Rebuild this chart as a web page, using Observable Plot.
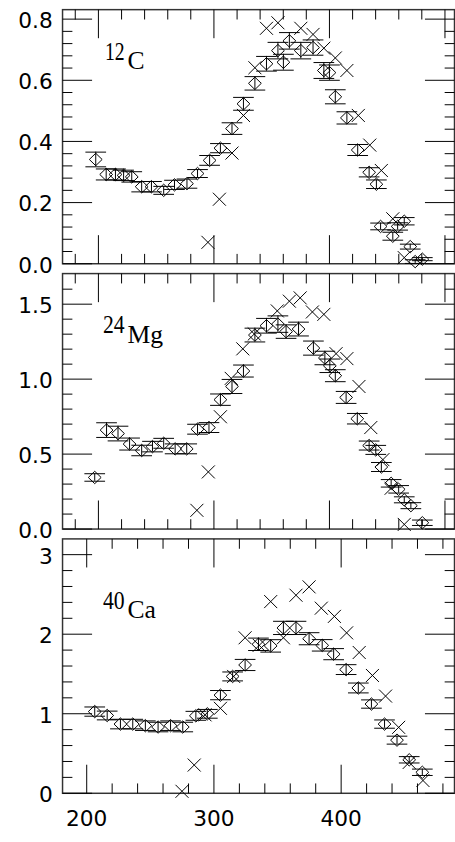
<!DOCTYPE html>
<html><head><meta charset="utf-8">
<script src="https://cdn.jsdelivr.net/npm/d3@7"></script>
<script src="https://cdn.jsdelivr.net/npm/@observablehq/plot@0.6"></script>
<style>
html,body{margin:0;padding:0;background:#fff;overflow:hidden;}
#wrap{position:relative;width:455px;height:842px;overflow:hidden;background:#fff;}
#wrap svg{position:absolute;left:0;top:0;}
</style></head><body><div id="wrap"></div>
<script>
// ---------- shared x ----------
const xDomain = [181, 489.1];
const xMajorBottom = [200, 300, 400];
const xMinorBottom = [220, 240, 260, 280, 320, 340, 360, 380, 420, 440, 460, 480];
const xMajorTop = [209.2, 300, 390.8, 481.6];
const xMinorTop = [191.0, 227.4, 245.5, 263.7, 281.8, 318.2, 336.3, 354.5, 372.6, 409.0, 427.1, 445.3, 463.4];

// ---------- 12C ----------
const cDiaX = [207.1, 215.3, 222.6, 229.0, 235.4, 243.2, 250.9, 260.5, 269.0, 278.8, 287.1, 296.6, 305.1, 314.2, 323.2, 332.2, 341.3, 350.3, 354.6, 359.3, 368.3, 377.9, 386.4, 390.8, 395.4, 404.5, 413.0, 422.0, 427.7, 431.0, 440.6, 444.4, 449.6, 454.3, 458.2, 463.8];
const cDiaY = [0.341, 0.292, 0.292, 0.289, 0.284, 0.252, 0.252, 0.240, 0.258, 0.262, 0.295, 0.338, 0.378, 0.442, 0.523, 0.590, 0.654, 0.697, 0.659, 0.729, 0.697, 0.707, 0.632, 0.625, 0.546, 0.477, 0.372, 0.299, 0.260, 0.122, 0.090, 0.122, 0.139, 0.056, 0.007, 0.015];
const cDiaErr = [0.024, 0.018, 0.018, 0.017, 0.017, 0.017, 0.017, 0.013, 0.015, 0.015, 0.013, 0.016, 0.015, 0.019, 0.021, 0.022, 0.024, 0.027, 0.026, 0.027, 0.027, 0.025, 0.026, 0.025, 0.023, 0.020, 0.018, 0.015, 0.014, 0.011, 0.013, 0.012, 0.012, 0.008, 0.006, 0.005];
const cCrossX = [295.3, 304.3, 314.2, 323.2, 332.2, 341.3, 350.3, 368.3, 377.9, 386.4, 395.4, 404.5, 413.5, 422.5, 431.6, 440.6, 449.6];
const cCrossY = [0.070, 0.211, 0.362, 0.485, 0.641, 0.770, 0.788, 0.770, 0.750, 0.705, 0.673, 0.632, 0.485, 0.388, 0.305, 0.147, 0.020];
const cYDomain = [0, 0.831];
const cYMajor = [0, 0.2, 0.4, 0.6, 0.8];
const cYMinor = [0.04, 0.08, 0.12, 0.16, 0.24, 0.28, 0.32, 0.36, 0.44, 0.48, 0.52, 0.56, 0.64, 0.68, 0.72, 0.76];

// ---------- 24Mg ----------
const mDiaX = [206.3, 215.6, 224.6, 233.7, 243.2, 251.7, 260.5, 269.5, 278.6, 287.1, 296.1, 305.1, 314.2, 323.2, 332.2, 341.3, 350.3, 356.7, 366.5, 378.2, 387.2, 391.1, 395.4, 403.9, 412.7, 422.0, 427.2, 431.6, 439.3, 445.2, 449.6, 454.8, 463.8];
const mDiaY = [0.344, 0.660, 0.637, 0.567, 0.524, 0.550, 0.572, 0.535, 0.535, 0.666, 0.677, 0.863, 0.951, 1.054, 1.294, 1.356, 1.367, 1.317, 1.334, 1.207, 1.141, 1.089, 1.023, 0.878, 0.736, 0.557, 0.528, 0.414, 0.305, 0.265, 0.195, 0.156, 0.042];
const mDiaErr = [0.025, 0.049, 0.049, 0.040, 0.035, 0.035, 0.033, 0.033, 0.033, 0.033, 0.033, 0.038, 0.047, 0.040, 0.046, 0.049, 0.055, 0.045, 0.046, 0.047, 0.045, 0.045, 0.040, 0.040, 0.035, 0.030, 0.030, 0.030, 0.025, 0.025, 0.020, 0.020, 0.018];
const mCrossX = [286.6, 295.6, 305.1, 313.6, 322.7, 331.7, 349.8, 359.3, 367.8, 377.4, 386.4, 396.0, 404.5, 414.0, 423.3, 432.8, 439.3, 449.6];
const mCrossY = [0.125, 0.381, 0.749, 1.005, 1.202, 1.301, 1.455, 1.520, 1.542, 1.448, 1.432, 1.170, 1.137, 0.951, 0.677, 0.463, 0.272, 0.031];
const mYDomain = [0, 1.704];
const mYMajor = [0, 0.5, 1.0, 1.5];
const mYMinor = [0.1, 0.2, 0.3, 0.4, 0.6, 0.7, 0.8, 0.9, 1.1, 1.2, 1.3, 1.4, 1.6];

// ---------- 40Ca ----------
const aDiaX = [206.3, 216.1, 226.5, 236.2, 246.1, 256.1, 265.9, 275.5, 285.8, 294.8, 305.1, 314.7, 324.5, 335.0, 344.6, 354.6, 364.5, 374.8, 385.1, 394.1, 403.9, 413.5, 423.8, 434.1, 443.9, 453.5, 463.8];
const aDiaY = [1.027, 0.978, 0.870, 0.870, 0.850, 0.833, 0.850, 0.833, 0.974, 0.999, 1.234, 1.469, 1.613, 1.873, 1.853, 2.079, 2.079, 1.943, 1.860, 1.749, 1.555, 1.324, 1.122, 0.870, 0.668, 0.421, 0.264];
const aDiaErr = [0.058, 0.055, 0.060, 0.060, 0.060, 0.060, 0.060, 0.060, 0.056, 0.055, 0.058, 0.056, 0.070, 0.078, 0.078, 0.083, 0.083, 0.076, 0.072, 0.070, 0.062, 0.062, 0.052, 0.052, 0.050, 0.040, 0.040];
const aCrossX = [274.9, 284.5, 293.0, 305.1, 315.5, 324.5, 335.6, 344.6, 354.6, 364.5, 374.8, 384.4, 394.7, 404.3, 414.2, 424.6, 434.9, 445.2, 453.5, 464.3];
const aCrossY = [0.025, 0.355, 0.986, 1.068, 1.469, 1.955, 1.860, 2.410, 1.955, 2.490, 2.595, 2.327, 2.224, 2.017, 1.770, 1.481, 1.222, 0.829, 0.388, 0.161];
const aYDomain = [0, 3.198];
const aYMajor = [0, 1, 2, 3];
const aYMinor = [0.2, 0.4, 0.6, 0.8, 1.2, 1.4, 1.6, 1.8, 2.2, 2.4, 2.6, 2.8];

// ---------- symbols ----------
const diamondSym = {draw(c){c.moveTo(0,-6.3);c.lineTo(6.5,0);c.lineTo(0,6.3);c.lineTo(-6.5,0);c.closePath();}};
const crossSym = {draw(c){const r=6.6;c.moveTo(-r,-r);c.lineTo(r,r);c.moveTo(-r,r);c.lineTo(r,-r);}};
const capSym = {draw(c){c.moveTo(-10.5,0);c.lineTo(10.5,0);}};
const hTick = (len) => ({draw(c){c.moveTo(0,0);c.lineTo(len,0);}});
const vTick = (len) => ({draw(c){c.moveTo(0,0);c.lineTo(0,len);}});

const serif = "Liberation Serif";
const sans = "DejaVu Sans";

function panel(o) {
  const dia = o.dx.map((x, i) => ({x, y: o.dy[i], e: o.de[i]}));
  const crs = o.cx.map((x, i) => ({x, y: o.cy[i]}));
  const line = {fill: "none", stroke: "black", strokeWidth: 1};
  const [x0, x1] = xDomain, [y0, y1] = o.yDomain;
  const marks = [
    Plot.frame({stroke: "#333", strokeWidth: 1.5}),
    // y ticks left & right
    Plot.dot(o.yMajor, {x: () => x0, y: d => d, symbol: hTick(30), ...line}),
    Plot.dot(o.yMinor, {x: () => x0, y: d => d, symbol: hTick(10), ...line}),
    Plot.dot(o.yMajor, {x: () => x1, y: d => d, symbol: hTick(-30), ...line}),
    Plot.dot(o.yMinor, {x: () => x1, y: d => d, symbol: hTick(-10), ...line}),
    // x ticks top & bottom
    Plot.dot(o.xTopMajor, {x: d => d, y: () => y1, symbol: vTick(29), ...line}),
    Plot.dot(o.xTopMinor, {x: d => d, y: () => y1, symbol: vTick(10), ...line}),
    Plot.dot(o.xBotMajor, {x: d => d, y: () => y0, symbol: vTick(-29), ...line}),
    Plot.dot(o.xBotMinor, {x: d => d, y: () => y0, symbol: vTick(-10), ...line}),
    Plot.axisY({ticks: o.yMajor, tickSize: 0, tickPadding: 10, dy: 2, tickFormat: o.fmt, fontSize: 22, fontFamily: sans, label: null}),
    // data
    Plot.ruleX(dia, {x: "x", y1: d => d.y - d.e, y2: d => d.y + d.e, stroke: "black", strokeWidth: 1}),
    Plot.dot(dia, {x: "x", y: d => d.y - d.e, symbol: capSym, ...line}),
    Plot.dot(dia, {x: "x", y: d => d.y + d.e, symbol: capSym, ...line}),
    Plot.dot(dia, {x: "x", y: "y", symbol: diamondSym, ...line}),
    Plot.dot(crs, {x: "x", y: "y", symbol: crossSym, ...line}),
    // labels
    Plot.text([o.mass], {frameAnchor: "top-left", text: d => d, dx: o.l1[0], dy: o.l1[1], textAnchor: "start", lineAnchor: "bottom", fontSize: 25, fontFamily: serif, fill: "black", className: "lab-mass"}),
    Plot.text([o.elem], {frameAnchor: "top-left", text: d => d, dx: o.l2[0], dy: o.l2[1], textAnchor: "start", lineAnchor: "bottom", fontSize: 26, fontFamily: serif, fill: "black"})
  ];
  if (o.xLabels) {
    marks.push(Plot.axisX({ticks: o.xLabels, tickSize: 0, tickPadding: 18, fontSize: 22, fontFamily: sans, label: null, tickFormat: d3.format("d")}));
  }
  const svg = Plot.plot({
    width: 462, height: 842,
    marginLeft: 63, marginRight: 1, marginTop: o.top, marginBottom: 842 - o.bottom,
    x: {domain: xDomain, ...(o.xLabels ? {} : {axis: null})},
    y: {domain: o.yDomain},
    style: {background: "transparent", color: "black", overflow: "visible"},
    marks
  });
  // narrow the superscript mass numbers like the reference lettering
  svg.querySelectorAll(".lab-mass text").forEach(t => { t.setAttribute("textLength", o.w1); t.setAttribute("lengthAdjust", "spacingAndGlyphs"); });
  return svg;
}

const wrap = document.getElementById("wrap");
wrap.append(panel({
  top: 9.3, bottom: 267.3, yDomain: cYDomain, yMajor: cYMajor, yMinor: cYMinor, fmt: d3.format(".1f"),
  xTopMajor: xMajorTop, xTopMinor: xMinorTop, xBotMajor: xMajorTop, xBotMinor: xMinorTop,
  dx: cDiaX, dy: cDiaY, de: cDiaErr, cx: cCrossX, cy: cCrossY,
  mass: "12", elem: "C", l1: [43, 50.7], l2: [66, 60.7], w1: 20
}));
wrap.append(panel({
  top: 277.3, bottom: 536.7, yDomain: mYDomain, yMajor: mYMajor, yMinor: mYMinor, fmt: d3.format(".1f"),
  xTopMajor: xMajorTop, xTopMinor: xMinorTop, xBotMajor: xMajorTop, xBotMinor: xMinorTop,
  dx: mDiaX, dy: mDiaY, de: mDiaErr, cx: mCrossX, cy: mCrossY,
  mass: "24", elem: "Mg", l1: [41, 60.7], l2: [66, 70.7], w1: 22
}));
wrap.append(panel({
  top: 546.7, bottom: 805, yDomain: aYDomain, yMajor: aYMajor, yMinor: aYMinor, fmt: d3.format("d"),
  xTopMajor: xMajorBottom, xTopMinor: xMinorBottom, xBotMajor: xMajorBottom, xBotMinor: xMinorBottom,
  dx: aDiaX, dy: aDiaY, de: aDiaErr, cx: aCrossX, cy: aCrossY,
  mass: "40", elem: "Ca", l1: [41, 71.3], l2: [66, 80.3], w1: 22,
  xLabels: xMajorBottom
}));
</script>
</body></html>
